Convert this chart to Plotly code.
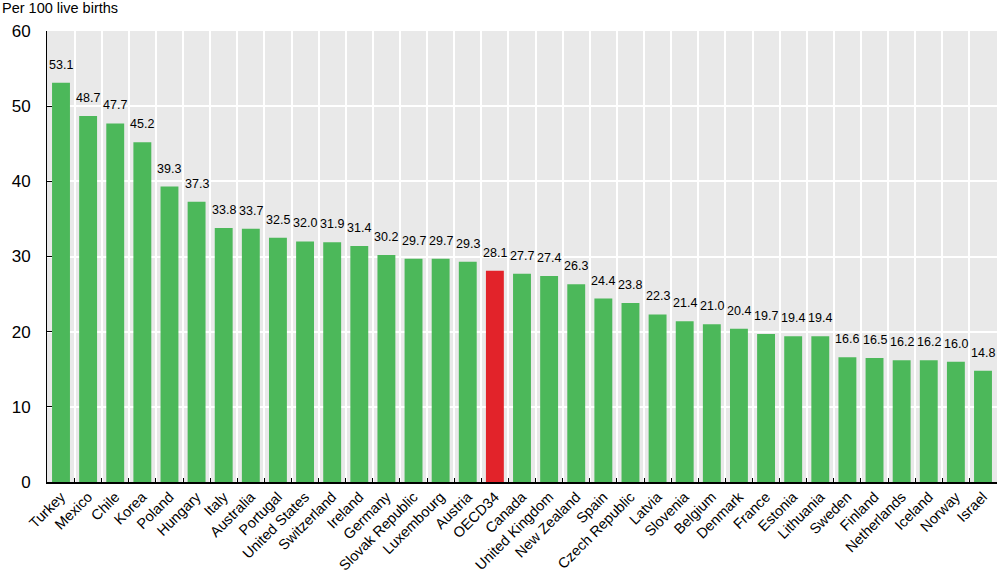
import plotly.graph_objects as go

countries = [
    "Turkey", "Mexico", "Chile", "Korea", "Poland", "Hungary", "Italy", "Australia",
    "Portugal", "United States", "Switzerland", "Ireland", "Germany", "Slovak Republic",
    "Luxembourg", "Austria", "OECD34", "Canada", "United Kingdom", "New Zealand", "Spain",
    "Czech Republic", "Latvia", "Slovenia", "Belgium", "Denmark", "France", "Estonia",
    "Lithuania", "Sweden", "Finland", "Netherlands", "Iceland", "Norway", "Israel",
]
values = [
    53.1, 48.7, 47.7, 45.2, 39.3, 37.3, 33.8, 33.7, 32.5, 32.0, 31.9, 31.4, 30.2, 29.7,
    29.7, 29.3, 28.1, 27.7, 27.4, 26.3, 24.4, 23.8, 22.3, 21.4, 21.0, 20.4, 19.7, 19.4,
    19.4, 16.6, 16.5, 16.2, 16.2, 16.0, 14.8,
]
y_ticks = [0, 10, 20, 30, 40, 50, 60]

GREEN = "#4cb85a"
RED = "#e2232a"
FONT = "Liberation Sans, Arial, sans-serif"

colors = [RED if c == "OECD34" else GREEN for c in countries]

fig = go.Figure()
fig.add_trace(go.Bar(
    x=countries,
    y=values,
    marker=dict(color=colors, line=dict(width=0)),
    showlegend=False,
    hoverinfo="x+y",
))

# value labels sit a little above each bar
labels = [
    dict(
        x=c, y=v, xref="x", yref="y",
        text=f"{v:.1f}",
        showarrow=False,
        yanchor="bottom",
        yshift=9,
        font=dict(family=FONT, size=12.5, color="#000000"),
    )
    for c, v in zip(countries, values)
]

fig.update_layout(
    width=1000,
    height=574,
    margin=dict(l=47, r=3, t=31, b=92),
    paper_bgcolor="white",
    plot_bgcolor="#e9e9e9",
    bargap=0.34,
    font=dict(family=FONT, color="#000000"),
    xaxis=dict(
        type="category",
        tickangle=-45,
        tickson="boundaries",
        ticks="inside",
        ticklen=4,
        tickcolor="#000000",
        ticklabelstandoff=-1,
        showgrid=True,
        gridcolor="white",
        gridwidth=2,
        showline=True,
        linecolor="#000000",
        linewidth=1.5,
        tickfont=dict(size=14.5),
        automargin=False,
    ),
    yaxis=dict(
        range=[0, 60],
        tickvals=y_ticks,
        ticks="inside",
        ticklen=5,
        tickcolor="#000000",
        ticklabelstandoff=12,
        showgrid=True,
        gridcolor="white",
        gridwidth=2,
        zeroline=False,
        showline=True,
        linecolor="#000000",
        linewidth=1,
        tickfont=dict(size=17),
        automargin=False,
    ),
    annotations=labels + [dict(
        text="Per 100 live births",
        xref="paper", yref="paper",
        x=0, y=1,
        xshift=-47, yshift=23,
        xanchor="left", yanchor="middle",
        showarrow=False,
        font=dict(family=FONT, size=14.5, color="#000000"),
    )],
)

# drop the default 8px body margin so the figure fills the window exactly
fig.write_html(
    "out.html",
    config={"displayModeBar": False},
    post_script="document.body.style.margin='0';",
)
